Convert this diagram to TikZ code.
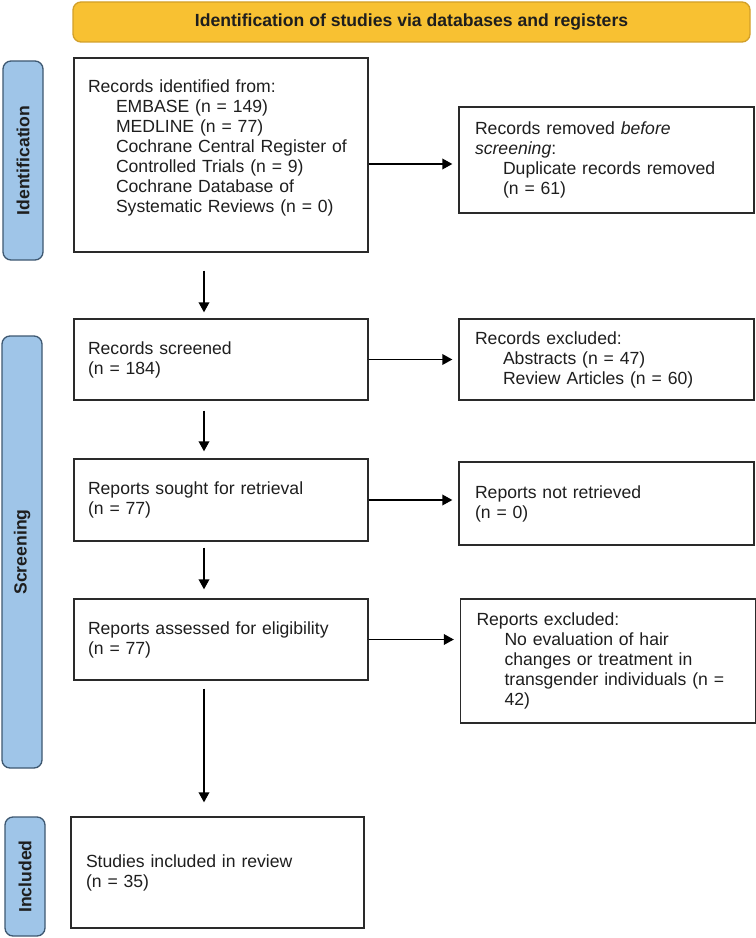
\documentclass[tikz,border=0pt]{standalone}
\usepackage{fontspec}
\setmainfont{Liberation Sans}
\usetikzlibrary{arrows.meta}
\definecolor{bannerfill}{HTML}{F8C132}
\definecolor{bannerdraw}{HTML}{D2A02A}
\definecolor{barfill}{HTML}{9FC5E8}
\definecolor{bardraw}{HTML}{3E5871}
\definecolor{boxdraw}{HTML}{2A2A2A}
\definecolor{txt}{HTML}{1E1E1E}
\begin{document}
\begin{tikzpicture}[x=0.75pt,y=-0.75pt,
  every node/.style={font=\fontsize{13.2}{15}\selectfont, text=txt},
  box/.style={draw=boxdraw, line width=1pt, rectangle, inner ysep=0pt, align=left},
  lbox/.style={box, inner xsep=10.5pt, text width=199.5pt, minimum width=220.5pt},
  rbox/.style={box, inner xsep=12pt, text width=197.25pt, minimum width=221.25pt},
  sidebar/.style={draw=bardraw, fill=barfill, line width=1pt, rounded corners=6pt,
    rotate=90, minimum height=30pt, inner sep=0pt, font=\fontsize{13.2}{15}\selectfont\bfseries},
  arr/.style={-{Triangle[length=7.5pt,width=8pt]}, line width=1pt, draw=black},
  ind/.style={}
]
\useasboundingbox (0,0) rectangle (756,938);

% banner
\node[draw=bannerdraw, fill=bannerfill, line width=1pt, rounded corners=6pt,
  minimum width=507.75pt, minimum height=30pt, inner sep=0pt,
  font=\fontsize{13.2}{15}\selectfont\bfseries] (banner) at (411.5,22)
  {Identification of studies via databases and registers};

% side bars
\node[sidebar, minimum width=149.25pt] (idbar) at (23,160.5) {Identification};
\node[sidebar, minimum width=324pt] (scbar) at (22,552) {Screening};
\node[sidebar, minimum width=89.25pt] (inbar) at (25,876.5) {Included};

% left column
\node[lbox, minimum height=145.5pt] (ident) at (221,155)
  {Records identified from:\\
   \hspace*{21pt}EMBASE (n = 149)\\
   \hspace*{21pt}MEDLINE (n = 77)\\
   \hspace*{21pt}Cochrane Central Register of\\
   \hspace*{21pt}Controlled Trials (n = 9)\\
   \hspace*{21pt}Cochrane Database of\\
   \hspace*{21pt}Systematic Reviews (n = 0)\rule[-13pt]{0pt}{0pt}};
\node[lbox, minimum height=60.75pt] (screened) at (221,359.5)
  {Records screened\\(n = 184)};
\node[lbox, minimum height=61.5pt] (sought) at (221,500)
  {Reports sought for retrieval\\(n = 77)};
\node[lbox, minimum height=60.75pt] (assessed) at (221,639.5)
  {Reports assessed for eligibility\\(n = 77)};
\node[box, inner xsep=11.25pt, text width=197.25pt, minimum width=219.75pt, minimum height=83.25pt] (studies) at (217.5,872.5)
  {Studies included in review\\(n = 35)};

% right column
\node[rbox, minimum height=79.5pt] (removed) at (606.5,160)
  {Records removed \textit{before}\\
   \textit{screening}:\\
   \hspace*{21pt}Duplicate records removed\\
   \hspace*{21pt}(n = 61)};
\node[rbox, minimum height=60.75pt] (excl1) at (606.5,359.5)
  {Records excluded:\\
   \hspace*{21pt}Abstracts (n = 47)\\
   \hspace*{21pt}Review Articles (n = 60)};
\node[rbox, minimum height=62.25pt] (notret) at (606.5,503.5)
  {Reports not retrieved\\(n = 0)};
\node[rbox, minimum height=93pt] (excl2) at (608,661)
  {Reports excluded:\\
   \hspace*{21pt}No evaluation of hair\\
   \hspace*{21pt}changes or treatment in\\
   \hspace*{21pt}transgender individuals (n =\\
   \hspace*{21pt}42)};

% vertical connectors
\coordinate (col) at (204,0);
\draw[arr, shorten <=13.5pt, shorten >=4.5pt] (ident.south -| col) -- (screened.north -| col);
\draw[arr, shorten <=7.5pt, shorten >=5.25pt] (screened.south -| col) -- (sought.north -| col);
\draw[arr, shorten <=4.5pt, shorten >=6.75pt] (sought.south -| col) -- (assessed.north -| col);
\draw[arr, shorten <=6pt, shorten >=10.5pt] (assessed.south -| col) -- (studies.north -| col);

% horizontal connectors
\coordinate (h1) at ([yshift=-6.75pt]ident.east);
\draw[arr, shorten >=4.5pt] (h1) -- (h1 -| removed.west);
\draw[arr, shorten >=4.5pt] (screened.east) -- (screened.east -| excl1.west);
\draw[arr, shorten >=4.5pt] (sought.east) -- (sought.east -| notret.west);
\draw[arr, shorten >=4.5pt] (assessed.east) -- (assessed.east -| excl2.west);
\end{tikzpicture}
\end{document}
